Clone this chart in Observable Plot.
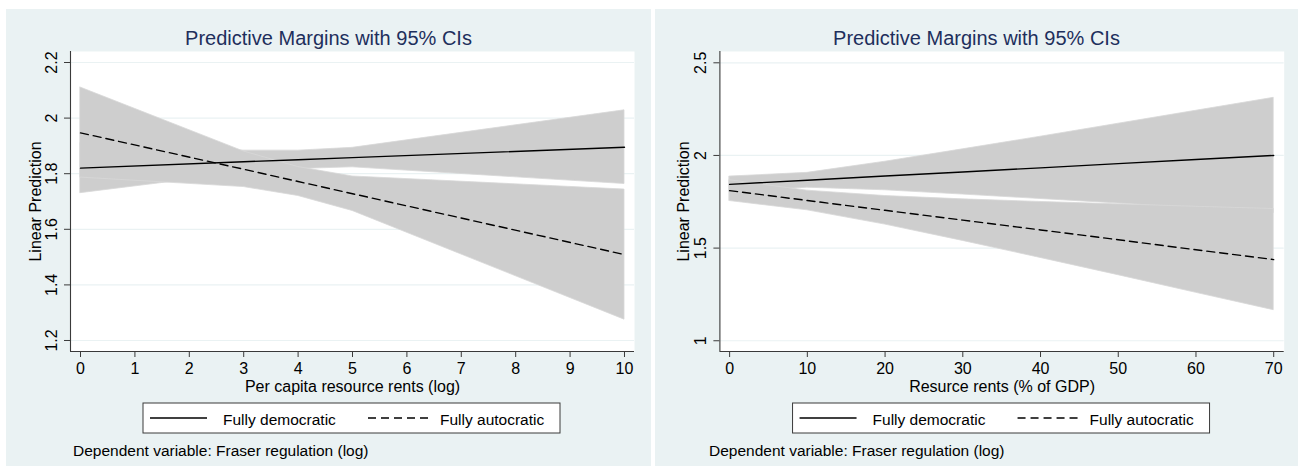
<!DOCTYPE html>
<html>
<head>
<meta charset="utf-8">
<script src="https://cdn.jsdelivr.net/npm/d3@7"></script>
<script src="https://cdn.jsdelivr.net/npm/@observablehq/plot@0.6"></script>
<style>
  html, body { margin: 0; padding: 0; background: #ffffff; }
  #wrap { position: relative; width: 1298px; height: 468px; overflow: hidden; background: #ffffff;
          font-family: "Liberation Sans", Arial, Helvetica, sans-serif; }
  .panel { position: absolute; top: 9px; height: 457px; background: #eaf2f3; }
  .panel svg { position: absolute; left: 0; top: 0; }
</style>
</head>
<body>
<div id="wrap"></div>
<script>
// ---------------- data ----------------
const titleText = "Predictive Margins with 95% CIs";
const yAxisTitle = "Linear Prediction";
const legendLabels = ["Fully democratic", "Fully autocratic"];
const captionText = "Dependent variable: Fraser regulation (log)";

// Left panel: per capita resource rents (log)
const leftXLabel = "Per capita resource rents (log)";
const leftXTicks = [0, 1, 2, 3, 4, 5, 6, 7, 8, 9, 10];
const leftYTicks = [1.2, 1.4, 1.6, 1.8, 2, 2.2];
const leftX       = [0, 3, 4, 5, 10];
const leftDemFit  = [1.820, 1.843, 1.850, 1.858, 1.895];
const leftDemLo   = [1.730, 1.803, 1.817, 1.823, 1.763];
const leftDemHi   = [1.910, 1.883, 1.883, 1.893, 2.028];
const leftAutFit  = [1.947, 1.816, 1.772, 1.728, 1.509];
const leftAutLo   = [1.786, 1.752, 1.720, 1.666, 1.275];
const leftAutHi   = [2.110, 1.880, 1.824, 1.790, 1.743];

// Right panel: resource rents (% of GDP)
const rightXLabel = "Resurce rents (% of GDP)";
const rightXTicks = [0, 10, 20, 30, 40, 50, 60, 70];
const rightYTicks = [1, 1.5, 2, 2.5];
const rightX      = [0, 10, 20, 30, 40, 50, 60, 70];
const rightDemFit = [1.844, 1.866, 1.889, 1.911, 1.933, 1.956, 1.978, 2.000];
const rightDemLo  = [1.802, 1.826, 1.812, 1.789, 1.765, 1.741, 1.715, 1.689];
const rightDemHi  = [1.886, 1.906, 1.966, 2.033, 2.101, 2.171, 2.241, 2.311];
const rightAutFit = [1.810, 1.757, 1.704, 1.651, 1.598, 1.545, 1.491, 1.438];
const rightAutLo  = [1.754, 1.704, 1.627, 1.539, 1.447, 1.354, 1.259, 1.165];
const rightAutHi  = [1.866, 1.810, 1.781, 1.763, 1.749, 1.736, 1.723, 1.711];

// ---------------- styling ----------------
const FONT = "'Liberation Sans', Arial, Helvetica, sans-serif";
const titleColor = "#1e2f5c";
const gridColor = "#eaf2f3";
const axisColor = "#3a3a3a";
const bandFill = "#cecece";
const bandStroke = "#d8d8d8";
const tickSizeFont = 16;
const textSize = 15.5;
const PANEL_H = 457;
const PANEL_TOP = 9;

function buildPanel(cfg) {
  const panel = document.createElement("div");
  panel.className = "panel";
  panel.style.left = cfg.left + "px";
  panel.style.width = cfg.width + "px";
  document.getElementById("wrap").appendChild(panel);

  const rows = cfg.xs.map((x, i) => ({
    x,
    demFit: cfg.demFit[i], demLo: cfg.demLo[i], demHi: cfg.demHi[i],
    autFit: cfg.autFit[i], autLo: cfg.autLo[i], autHi: cfg.autHi[i]
  }));

  const chart = Plot.plot({
    width: cfg.width,
    height: PANEL_H,
    marginLeft: cfg.ml,
    marginRight: cfg.mr,
    marginTop: 42,
    marginBottom: 115,
    style: { background: "transparent", fontFamily: FONT, overflow: "visible" },
    x: { domain: cfg.xDomain },
    y: { domain: cfg.yDomain },
    marks: [
      Plot.frame({ fill: "white", stroke: "none" }),
      Plot.ruleY(cfg.yTicks, { stroke: gridColor, strokeWidth: 1.2 }),
      Plot.areaY(rows, { x: "x", y1: "demLo", y2: "demHi", fill: bandFill, stroke: bandStroke, strokeWidth: 0.8 }),
      Plot.areaY(rows, { x: "x", y1: "autLo", y2: "autHi", fill: bandFill, stroke: bandStroke, strokeWidth: 0.8 }),
      Plot.line(rows, { x: "x", y: "demFit", stroke: "#000", strokeWidth: 1.4 }),
      Plot.line(rows, { x: "x", y: "autFit", stroke: "#000", strokeWidth: 1.4, strokeDasharray: "8,5" }),
      Plot.ruleX([cfg.xDomain[0]], { stroke: axisColor, strokeWidth: 1.1 }),
      Plot.ruleY([cfg.yDomain[0]], { stroke: axisColor, strokeWidth: 1.1 }),
      Plot.axisX({ ticks: cfg.xTicks, tickSize: 6, tickPadding: 5, fontSize: tickSizeFont,
                   label: null, stroke: axisColor, fill: "#000" }),
      Plot.axisY({ ticks: cfg.yTicks, tickSize: 6, tickFormat: () => "", label: null, stroke: axisColor }),
      Plot.text(cfg.yTicks, { y: d => d, text: d => String(d), frameAnchor: "left", dx: -14,
                              rotate: -90, textAnchor: "middle", lineAnchor: "bottom",
                              fontSize: tickSizeFont, fill: "#000" }),
      Plot.text([yAxisTitle], { text: d => d, frameAnchor: "left", dx: cfg.yTitleDx, rotate: -90,
                                textAnchor: "middle", lineAnchor: "bottom", fontSize: tickSizeFont, fill: "#000" }),
      Plot.text([cfg.xLabel], { text: d => d, frameAnchor: "bottom", dy: 40, lineAnchor: "bottom",
                                fontSize: tickSizeFont, fill: "#000" })
    ]
  });
  panel.appendChild(chart);

  // Overlay: title, legend, caption
  const cx = cfg.ml + (cfg.width - cfg.ml - cfg.mr) / 2;
  const svg = d3.create("svg")
    .attr("width", cfg.width).attr("height", PANEL_H)
    .style("font-family", FONT);
  svg.append("text")
    .attr("x", cfg.width / 2).attr("y", 45 - PANEL_TOP)
    .attr("text-anchor", "middle").attr("font-size", 20).attr("fill", titleColor)
    .text(titleText);
  const ly = 418 - PANEL_TOP;
  svg.append("rect")
    .attr("x", cx - 209).attr("y", 403 - PANEL_TOP).attr("width", 417).attr("height", 30)
    .attr("fill", "white").attr("stroke", axisColor).attr("stroke-width", 1);
  svg.append("line")
    .attr("x1", cx - 202).attr("x2", cx - 145).attr("y1", ly).attr("y2", ly)
    .attr("stroke", "#000").attr("stroke-width", 1.4);
  svg.append("text")
    .attr("x", cx - 129).attr("y", 424.5 - PANEL_TOP).attr("font-size", textSize).attr("fill", "#000")
    .text(legendLabels[0]);
  svg.append("line")
    .attr("x1", cx + 16).attr("x2", cx + 77).attr("y1", ly).attr("y2", ly)
    .attr("stroke", "#000").attr("stroke-width", 1.4).attr("stroke-dasharray", "8,5");
  svg.append("text")
    .attr("x", cx + 88).attr("y", 424.5 - PANEL_TOP).attr("font-size", textSize).attr("fill", "#000")
    .text(legendLabels[1]);
  svg.append("text")
    .attr("x", cfg.captionX).attr("y", 456 - PANEL_TOP).attr("font-size", textSize).attr("fill", "#000")
    .text(captionText);
  panel.appendChild(svg.node());
}

buildPanel({
  left: 6, width: 645, ml: 64, mr: 17,
  xDomain: [-0.184, 10.184], yDomain: [1.1604, 2.2396],
  xTicks: leftXTicks, yTicks: leftYTicks, xLabel: leftXLabel, yTitleDx: -30,
  xs: leftX, demFit: leftDemFit, demLo: leftDemLo, demHi: leftDemHi,
  autFit: leftAutFit, autLo: leftAutLo, autHi: leftAutHi,
  captionX: 73 - 6
});

buildPanel({
  left: 655, width: 643, ml: 64.4, mr: 14.3,
  xDomain: [-1.25, 71.35], yDomain: [0.942, 2.561],
  xTicks: rightXTicks, yTicks: rightYTicks, xLabel: rightXLabel, yTitleDx: -31,
  xs: rightX, demFit: rightDemFit, demLo: rightDemLo, demHi: rightDemHi,
  autFit: rightAutFit, autLo: rightAutLo, autHi: rightAutHi,
  captionX: 709 - 655
});
</script>
</body>
</html>
